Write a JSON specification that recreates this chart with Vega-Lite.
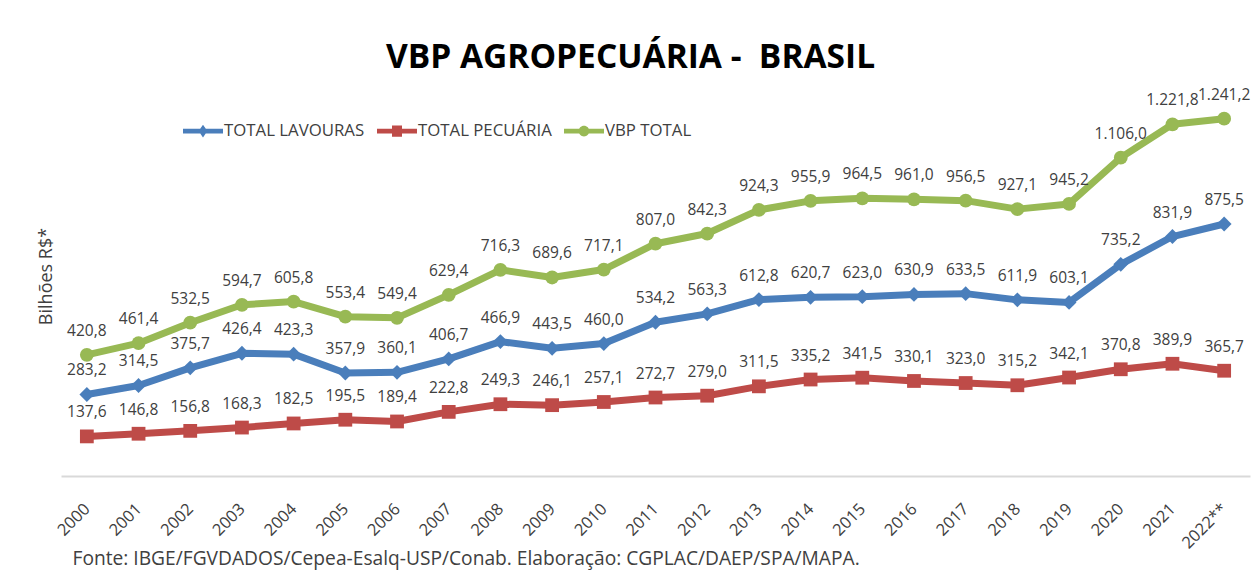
{
  "$schema": "https://vega.github.io/schema/vega-lite/v6.json",
  "autosize": {"type": "none"},
  "width": 1189,
  "height": 403,
  "padding": {"left": 61, "top": 73, "right": 8, "bottom": 97},
  "background": "white",
  "config": {
    "locale": {"number": {"decimal": ",", "thousands": ".", "grouping": [3], "currency": ["R$", ""]}},
    "view": {"stroke": null},
    "font": "Open Sans"
  },
  "title": {
    "text": "VBP AGROPECUÁRIA - \u00a0BRASIL",
    "font": "Open Sans",
    "fontSize": 33.5,
    "fontWeight": "bold",
    "color": "#000000",
    "anchor": "middle",
    "dx": -25,
    "offset": -2
  },
  "data": {
    "values": [
      {"ano": "2000", "serie": "TOTAL LAVOURAS", "valor": 283.2},
      {"ano": "2001", "serie": "TOTAL LAVOURAS", "valor": 314.5},
      {"ano": "2002", "serie": "TOTAL LAVOURAS", "valor": 375.7},
      {"ano": "2003", "serie": "TOTAL LAVOURAS", "valor": 426.4},
      {"ano": "2004", "serie": "TOTAL LAVOURAS", "valor": 423.3},
      {"ano": "2005", "serie": "TOTAL LAVOURAS", "valor": 357.9},
      {"ano": "2006", "serie": "TOTAL LAVOURAS", "valor": 360.1},
      {"ano": "2007", "serie": "TOTAL LAVOURAS", "valor": 406.7},
      {"ano": "2008", "serie": "TOTAL LAVOURAS", "valor": 466.9},
      {"ano": "2009", "serie": "TOTAL LAVOURAS", "valor": 443.5},
      {"ano": "2010", "serie": "TOTAL LAVOURAS", "valor": 460.0},
      {"ano": "2011", "serie": "TOTAL LAVOURAS", "valor": 534.2},
      {"ano": "2012", "serie": "TOTAL LAVOURAS", "valor": 563.3},
      {"ano": "2013", "serie": "TOTAL LAVOURAS", "valor": 612.8},
      {"ano": "2014", "serie": "TOTAL LAVOURAS", "valor": 620.7},
      {"ano": "2015", "serie": "TOTAL LAVOURAS", "valor": 623.0},
      {"ano": "2016", "serie": "TOTAL LAVOURAS", "valor": 630.9},
      {"ano": "2017", "serie": "TOTAL LAVOURAS", "valor": 633.5},
      {"ano": "2018", "serie": "TOTAL LAVOURAS", "valor": 611.9},
      {"ano": "2019", "serie": "TOTAL LAVOURAS", "valor": 603.1},
      {"ano": "2020", "serie": "TOTAL LAVOURAS", "valor": 735.2},
      {"ano": "2021", "serie": "TOTAL LAVOURAS", "valor": 831.9},
      {"ano": "2022**", "serie": "TOTAL LAVOURAS", "valor": 875.5},
      {"ano": "2000", "serie": "TOTAL PECUÁRIA", "valor": 137.6},
      {"ano": "2001", "serie": "TOTAL PECUÁRIA", "valor": 146.8},
      {"ano": "2002", "serie": "TOTAL PECUÁRIA", "valor": 156.8},
      {"ano": "2003", "serie": "TOTAL PECUÁRIA", "valor": 168.3},
      {"ano": "2004", "serie": "TOTAL PECUÁRIA", "valor": 182.5},
      {"ano": "2005", "serie": "TOTAL PECUÁRIA", "valor": 195.5},
      {"ano": "2006", "serie": "TOTAL PECUÁRIA", "valor": 189.4},
      {"ano": "2007", "serie": "TOTAL PECUÁRIA", "valor": 222.8},
      {"ano": "2008", "serie": "TOTAL PECUÁRIA", "valor": 249.3},
      {"ano": "2009", "serie": "TOTAL PECUÁRIA", "valor": 246.1},
      {"ano": "2010", "serie": "TOTAL PECUÁRIA", "valor": 257.1},
      {"ano": "2011", "serie": "TOTAL PECUÁRIA", "valor": 272.7},
      {"ano": "2012", "serie": "TOTAL PECUÁRIA", "valor": 279.0},
      {"ano": "2013", "serie": "TOTAL PECUÁRIA", "valor": 311.5},
      {"ano": "2014", "serie": "TOTAL PECUÁRIA", "valor": 335.2},
      {"ano": "2015", "serie": "TOTAL PECUÁRIA", "valor": 341.5},
      {"ano": "2016", "serie": "TOTAL PECUÁRIA", "valor": 330.1},
      {"ano": "2017", "serie": "TOTAL PECUÁRIA", "valor": 323.0},
      {"ano": "2018", "serie": "TOTAL PECUÁRIA", "valor": 315.2},
      {"ano": "2019", "serie": "TOTAL PECUÁRIA", "valor": 342.1},
      {"ano": "2020", "serie": "TOTAL PECUÁRIA", "valor": 370.8},
      {"ano": "2021", "serie": "TOTAL PECUÁRIA", "valor": 389.9},
      {"ano": "2022**", "serie": "TOTAL PECUÁRIA", "valor": 365.7},
      {"ano": "2000", "serie": "VBP TOTAL", "valor": 420.8},
      {"ano": "2001", "serie": "VBP TOTAL", "valor": 461.4},
      {"ano": "2002", "serie": "VBP TOTAL", "valor": 532.5},
      {"ano": "2003", "serie": "VBP TOTAL", "valor": 594.7},
      {"ano": "2004", "serie": "VBP TOTAL", "valor": 605.8},
      {"ano": "2005", "serie": "VBP TOTAL", "valor": 553.4},
      {"ano": "2006", "serie": "VBP TOTAL", "valor": 549.4},
      {"ano": "2007", "serie": "VBP TOTAL", "valor": 629.4},
      {"ano": "2008", "serie": "VBP TOTAL", "valor": 716.3},
      {"ano": "2009", "serie": "VBP TOTAL", "valor": 689.6},
      {"ano": "2010", "serie": "VBP TOTAL", "valor": 717.1},
      {"ano": "2011", "serie": "VBP TOTAL", "valor": 807.0},
      {"ano": "2012", "serie": "VBP TOTAL", "valor": 842.3},
      {"ano": "2013", "serie": "VBP TOTAL", "valor": 924.3},
      {"ano": "2014", "serie": "VBP TOTAL", "valor": 955.9},
      {"ano": "2015", "serie": "VBP TOTAL", "valor": 964.5},
      {"ano": "2016", "serie": "VBP TOTAL", "valor": 961.0},
      {"ano": "2017", "serie": "VBP TOTAL", "valor": 956.5},
      {"ano": "2018", "serie": "VBP TOTAL", "valor": 927.1},
      {"ano": "2019", "serie": "VBP TOTAL", "valor": 945.2},
      {"ano": "2020", "serie": "VBP TOTAL", "valor": 1106.0},
      {"ano": "2021", "serie": "VBP TOTAL", "valor": 1221.8},
      {"ano": "2022**", "serie": "VBP TOTAL", "valor": 1241.2}
    ]
  },
  "encoding": {
    "x": {
      "field": "ano",
      "type": "ordinal",
      "scale": {"type": "point", "padding": 0.5},
      "axis": {
        "title": "Fonte: IBGE/FGVDADOS/Cepea-Esalq-USP/Conab. Elaboração: CGPLAC/DAEP/SPA/MAPA.",
        "titleFont": "Open Sans",
        "titleFontSize": 19.2,
        "titleFontWeight": "normal",
        "titleColor": "#404040",
        "titleAnchor": "start",
        "titleAlign": "left",
        "titleBaseline": "alphabetic",
        "titleX": 11,
        "titleY": 88,
        "labelAngle": -45,
        "labelFont": "Open Sans",
        "labelFontSize": 16.5,
        "labelColor": "#404040",
        "labelAlign": "right",
        "labelBaseline": "middle",
        "labelPadding": 30,
        "ticks": false,
        "domainColor": "#d9d9d9",
        "domainWidth": 2,
        "grid": false
      }
    },
    "y": {
      "field": "valor",
      "type": "quantitative",
      "scale": {"domain": [0, 1400], "nice": false},
      "axis": {
        "title": "Bilhões R$*",
        "titleFont": "Open Sans",
        "titleFontSize": 18,
        "titleFontWeight": "normal",
        "titleColor": "#404040",
        "titleAngle": -90,
        "titleX": -15,
        "titleY": 203,
        "titleAlign": "center",
        "titleBaseline": "middle",
        "labels": false,
        "ticks": false,
        "domain": false,
        "grid": false
      }
    },
    "color": {
      "field": "serie",
      "type": "nominal",
      "scale": {
        "domain": ["TOTAL LAVOURAS", "TOTAL PECUÁRIA", "VBP TOTAL"],
        "range": ["#4A7EBB", "#BE4B48", "#98B954"]
      },
      "legend": {
        "orient": "none",
        "legendX": 122,
        "legendY": 38,
        "direction": "horizontal",
        "title": null,
        "labelFont": "Open Sans",
        "labelFontSize": 16.8,
        "labelColor": "#404040",
        "labelOffset": 1,
        "columnPadding": 12,
        "symbolSize": 1600,
        "symbolStrokeWidth": 0,
        "symbolType": "M-1,-0.12L1,-0.12L1,0.12L-1,0.12Z",
        "encode": {
          "symbols": {
            "update": {
              "shape": {"signal": "datum.value === 'TOTAL LAVOURAS' ? 'M-1,-0.12L1,-0.12L1,0.12L-1,0.12Z M0,-0.32L0.22,0L0,0.32L-0.22,0Z' : datum.value === 'TOTAL PECUÁRIA' ? 'M-1,-0.12L1,-0.12L1,0.12L-1,0.12Z M-0.25,-0.28L0.25,-0.28L0.25,0.28L-0.25,0.28Z' : 'M-1,-0.12L1,-0.12L1,0.12L-1,0.12Z M-0.27,0A0.27,0.27 0 1,1 0.27,0A0.27,0.27 0 1,1 -0.27,0Z'"},
              "fill": {"signal": "scale('color', datum.value)"},
              "strokeWidth": {"value": 0},
              "opacity": {"value": 1}
            }
          }
        }
      }
    }
  },
  "layer": [
    {
      "mark": {"type": "line", "strokeWidth": 7, "strokeJoin": "round", "strokeCap": "round"},
      "encoding": {"detail": {"field": "serie"}}
    },
    {
      "transform": [{"filter": "datum.serie === 'TOTAL LAVOURAS'"}],
      "mark": {"type": "point", "shape": "diamond", "filled": true, "opacity": 1, "size": 220}
    },
    {
      "transform": [{"filter": "datum.serie === 'TOTAL PECUÁRIA'"}],
      "mark": {"type": "point", "shape": "square", "filled": true, "opacity": 1, "size": 190}
    },
    {
      "transform": [{"filter": "datum.serie === 'VBP TOTAL'"}],
      "mark": {"type": "point", "shape": "circle", "filled": true, "opacity": 1, "size": 190}
    },
    {
      "mark": {"type": "text", "dy": -24, "font": "Open Sans", "fontSize": 15.5, "fill": "#404040"},
      "encoding": {
        "text": {"field": "valor", "type": "quantitative", "format": ",.1f"},
        "color": {"value": "#404040"}
      }
    }
  ]
}
